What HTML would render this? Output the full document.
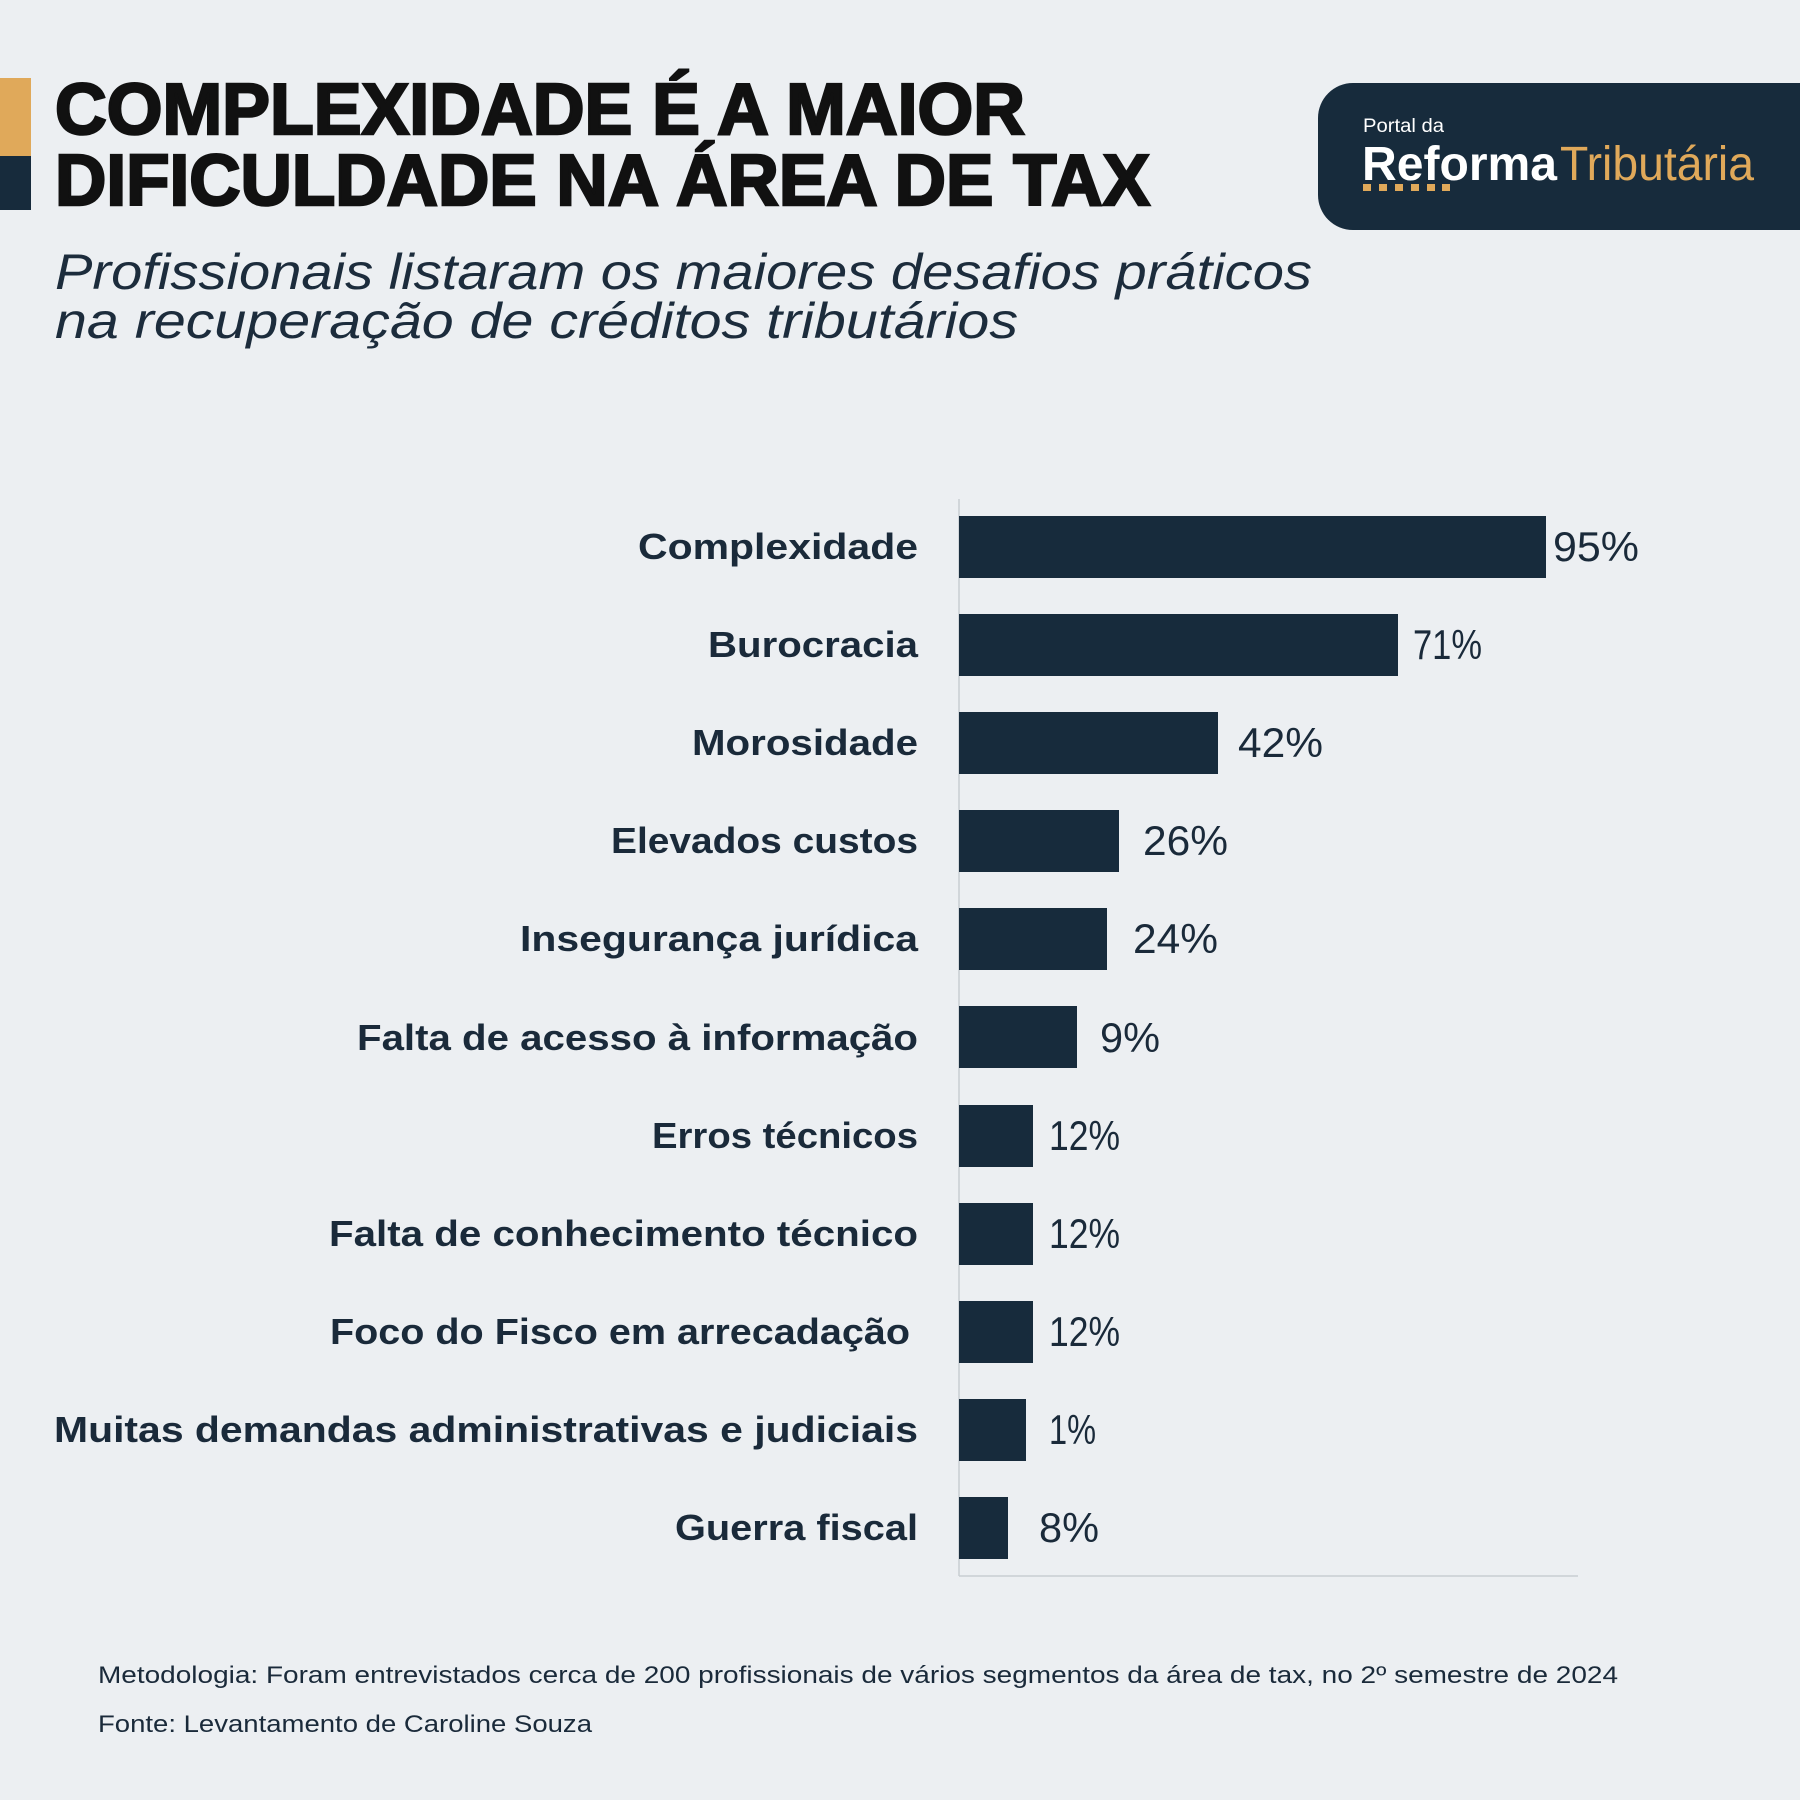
<!DOCTYPE html>
<html><head><meta charset="utf-8"><style>
html,body{margin:0;padding:0;background:#eceff2;}
svg{display:block;}
</style></head><body>
<svg width="1800" height="1800" viewBox="0 0 1800 1800" xmlns="http://www.w3.org/2000/svg" font-family="Liberation Sans, sans-serif">
<rect width="1800" height="1800" fill="#eceff2"/>
<rect x="0" y="78" width="31" height="78" fill="#e0a95a"/>
<rect x="0" y="156" width="31" height="54" fill="#172b3c"/>
<text x="55" y="134" font-size="72" font-weight="bold" fill="#111" stroke="#111" stroke-width="2.5" textLength="970" lengthAdjust="spacingAndGlyphs">COMPLEXIDADE É A MAIOR</text>
<text x="55" y="205" font-size="72" font-weight="bold" fill="#111" stroke="#111" stroke-width="2.5" textLength="1095" lengthAdjust="spacingAndGlyphs">DIFICULDADE NA ÁREA DE TAX</text>
<text x="55" y="289" font-size="50" font-style="italic" fill="#1c2c3c" textLength="1257" lengthAdjust="spacingAndGlyphs">Profissionais listaram os maiores desafios práticos</text>
<text x="55" y="338" font-size="50" font-style="italic" fill="#1c2c3c" textLength="963" lengthAdjust="spacingAndGlyphs">na recuperação de créditos tributários</text>
<path d="M1353 83 H1800 V230 H1353 A35 35 0 0 1 1318 195 V118 A35 35 0 0 1 1353 83 Z" fill="#172b3c"/>
<text x="1363" y="132" font-size="19" fill="#fff" textLength="81" lengthAdjust="spacingAndGlyphs">Portal da</text>
<text x="1362" y="180" font-size="48" font-weight="bold" fill="#fff" textLength="195" lengthAdjust="spacingAndGlyphs">Reforma</text>
<text x="1560" y="180" font-size="48" fill="#e0a95a" textLength="194" lengthAdjust="spacingAndGlyphs">Tributária</text>
<g fill="#e0a95a">
<rect x="1363" y="184" width="8" height="7"/><rect x="1379" y="184" width="8" height="7"/><rect x="1395" y="184" width="8" height="7"/><rect x="1411" y="184" width="8" height="7"/><rect x="1427" y="184" width="8" height="7"/><rect x="1442" y="184" width="8" height="7"/>
</g>
<line x1="959" y1="499" x2="959" y2="1576" stroke="#c8cdd2" stroke-width="1.5"/>
<line x1="959" y1="1576" x2="1578" y2="1576" stroke="#c8cdd2" stroke-width="1.5"/>
<g fill="#172b3c">
<rect x="959" y="516" width="587" height="62"/>
<rect x="959" y="614" width="439" height="62"/>
<rect x="959" y="712" width="259" height="62"/>
<rect x="959" y="810" width="160" height="62"/>
<rect x="959" y="908" width="148" height="62"/>
<rect x="959" y="1006" width="118" height="62"/>
<rect x="959" y="1105" width="74" height="62"/>
<rect x="959" y="1203" width="74" height="62"/>
<rect x="959" y="1301" width="74" height="62"/>
<rect x="959" y="1399" width="67" height="62"/>
<rect x="959" y="1497" width="49" height="62"/>
</g>
<g font-size="36" font-weight="bold" fill="#1a2a3a" text-anchor="end">
<text x="918" y="559" textLength="280" lengthAdjust="spacingAndGlyphs">Complexidade</text>
<text x="918" y="657" textLength="210" lengthAdjust="spacingAndGlyphs">Burocracia</text>
<text x="918" y="755" textLength="226" lengthAdjust="spacingAndGlyphs">Morosidade</text>
<text x="918" y="853" textLength="307" lengthAdjust="spacingAndGlyphs">Elevados custos</text>
<text x="918" y="951" textLength="398" lengthAdjust="spacingAndGlyphs">Insegurança jurídica</text>
<text x="918" y="1050" textLength="561" lengthAdjust="spacingAndGlyphs">Falta de acesso à informação</text>
<text x="918" y="1148" textLength="266" lengthAdjust="spacingAndGlyphs">Erros técnicos</text>
<text x="918" y="1246" textLength="589" lengthAdjust="spacingAndGlyphs">Falta de conhecimento técnico</text>
<text x="910" y="1344" textLength="580" lengthAdjust="spacingAndGlyphs">Foco do Fisco em arrecadação</text>
<text x="918" y="1442" textLength="864" lengthAdjust="spacingAndGlyphs">Muitas demandas administrativas e judiciais</text>
<text x="918" y="1540" textLength="243" lengthAdjust="spacingAndGlyphs">Guerra fiscal</text>
</g>
<g font-size="42" fill="#1a2a3a">
<text x="1553" y="561" textLength="86" lengthAdjust="spacingAndGlyphs">95%</text>
<text x="1413" y="659" textLength="69" lengthAdjust="spacingAndGlyphs">71%</text>
<text x="1238" y="757" textLength="85" lengthAdjust="spacingAndGlyphs">42%</text>
<text x="1143" y="855" textLength="85" lengthAdjust="spacingAndGlyphs">26%</text>
<text x="1133" y="953" textLength="85" lengthAdjust="spacingAndGlyphs">24%</text>
<text x="1100" y="1052" textLength="60" lengthAdjust="spacingAndGlyphs">9%</text>
<text x="1049" y="1150" textLength="71" lengthAdjust="spacingAndGlyphs">12%</text>
<text x="1049" y="1248" textLength="71" lengthAdjust="spacingAndGlyphs">12%</text>
<text x="1049" y="1346" textLength="71" lengthAdjust="spacingAndGlyphs">12%</text>
<text x="1049" y="1444" textLength="47" lengthAdjust="spacingAndGlyphs">1%</text>
<text x="1039" y="1542" textLength="60" lengthAdjust="spacingAndGlyphs">8%</text>
</g>
<text x="98" y="1683" font-size="24" fill="#1a2a3a" textLength="1520" lengthAdjust="spacingAndGlyphs">Metodologia: Foram entrevistados cerca de 200 profissionais de vários segmentos da área de tax, no 2º semestre de 2024</text>
<text x="98" y="1732" font-size="24" fill="#1a2a3a" textLength="494" lengthAdjust="spacingAndGlyphs">Fonte: Levantamento de Caroline Souza</text>
</svg>
</body></html>
